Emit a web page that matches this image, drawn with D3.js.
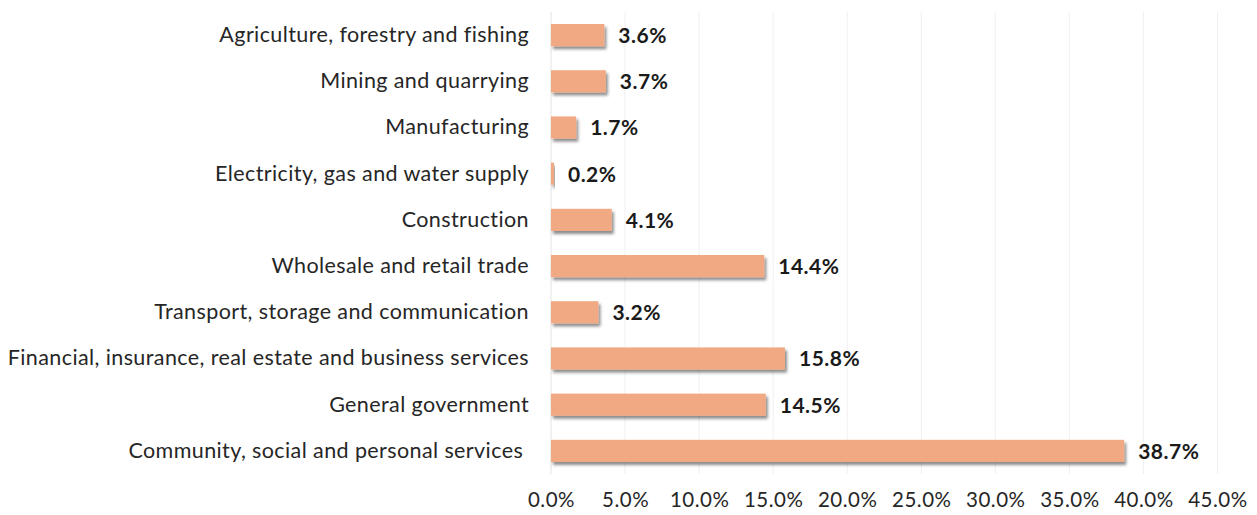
<!DOCTYPE html>
<html>
<head>
<meta charset="utf-8">
<script src="https://cdn.jsdelivr.net/npm/d3@7"></script>
<style>
  html, body { margin: 0; padding: 0; background: #fff; }
  svg { display: block; }
  text { font-family: Lato, "Open Sans", sans-serif; }
</style>
</head>
<body>
<svg id="chart" width="1257" height="515"></svg>
<script>
// Share of employment by industry (%)
const categories = [
  "Agriculture, forestry and fishing",
  "Mining and quarrying",
  "Manufacturing",
  "Electricity, gas and water supply",
  "Construction",
  "Wholesale and retail trade",
  "Transport, storage and communication",
  "Financial, insurance, real estate and business services",
  "General government",
  "Community, social and personal services "
];
const values = [3.6, 3.7, 1.7, 0.2, 4.1, 14.4, 3.2, 15.8, 14.5, 38.7];
const tickValues = [0, 5, 10, 15, 20, 25, 30, 35, 40, 45];

const svg = d3.select("#chart");
const margin = { left: 551, right: 40, top: 12, bottom: 41 };
const W = 1257, H = 515;

const x = d3.scaleLinear().domain([0, 45]).range([margin.left, margin.left + 45 * 14.81]);
const y = d3.scaleBand().domain(categories).range([margin.top, H - margin.bottom]).paddingInner(0.52).paddingOuter(0.26);

// drop shadow for bars
const defs = svg.append("defs");
const f = defs.append("filter").attr("id", "shadow")
  .attr("x", "-10%").attr("y", "-40%").attr("width", "130%").attr("height", "200%");
f.append("feDropShadow").attr("dx", 2).attr("dy", 3).attr("stdDeviation", 1.8)
  .attr("flood-color", "#000").attr("flood-opacity", 0.45);

// vertical gridlines
svg.append("g").selectAll("line").data(tickValues.slice(1)).join("line")
  .attr("x1", d => x(d)).attr("x2", d => x(d))
  .attr("y1", margin.top).attr("y2", H - margin.bottom)
  .attr("stroke", "#f0f0f0").attr("stroke-width", 1);

// category axis line
svg.append("line")
  .attr("x1", x(0)).attr("x2", x(0))
  .attr("y1", margin.top).attr("y2", H - margin.bottom)
  .attr("stroke", "#e3e3e3").attr("stroke-width", 1);

// bars
svg.append("g").selectAll("rect").data(values).join("rect")
  .attr("x", x(0))
  .attr("y", (d, i) => y(categories[i]))
  .attr("width", d => x(d) - x(0))
  .attr("height", y.bandwidth())
  .attr("fill", "#F1A984")
  .attr("filter", "url(#shadow)");

// value labels
svg.append("g").selectAll("text").data(values).join("text")
  .attr("x", d => x(d) + 14)
  .attr("y", (d, i) => y(categories[i]) + y.bandwidth() / 2)
  .attr("dy", "0.38em")
  .attr("font-size", 21)
  .attr("letter-spacing", 0.5)
  .attr("font-weight", "bold")
  .attr("fill", "#1a1a1a")
  .text(d => d.toFixed(1) + "%");

// category labels
const yAxis = d3.axisLeft(y).tickSize(0).tickPadding(22);
const gy = svg.append("g").attr("transform", `translate(${x(0)},0)`).call(yAxis);
gy.select(".domain").remove();
gy.selectAll("text")
  .attr("font-size", 21.5)
  .attr("letter-spacing", 0.4)
  .attr("font-family", "Lato, 'Open Sans', sans-serif")
  .attr("fill", "#262626")
  .style("white-space", "pre");

// value axis labels
const xAxis = d3.axisBottom(x).tickValues(tickValues).tickSize(0).tickPadding(18)
  .tickFormat(d => d.toFixed(1) + "%");
const gx = svg.append("g").attr("transform", `translate(0,${H - margin.bottom})`).call(xAxis);
gx.select(".domain").remove();
gx.selectAll("text")
  .attr("font-size", 20.5)
  .attr("letter-spacing", 0.5)
  .attr("font-family", "Lato, 'Open Sans', sans-serif")
  .attr("fill", "#262626");
</script>
</body>
</html>
